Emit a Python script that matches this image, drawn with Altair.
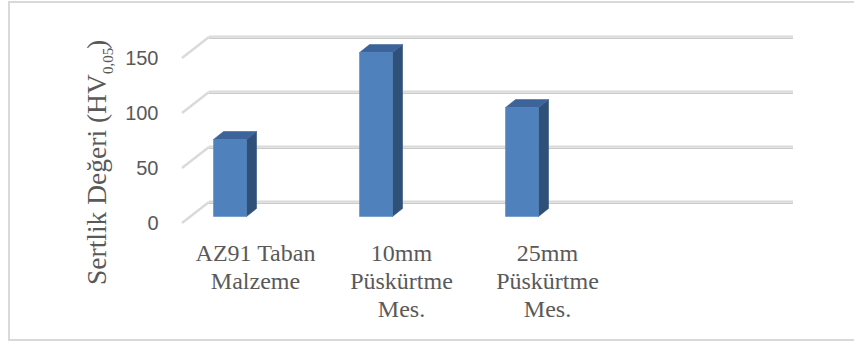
import json
import altair as alt
import pandas as pd

# ---------------- data ----------------
categories = ["AZ91 Taban Malzeme", "10mm Püskürtme Mes.", "25mm Püskürtme Mes."]
label_lines = [["AZ91 Taban", "Malzeme"], ["10mm", "Püskürtme", "Mes."], ["25mm", "Püskürtme", "Mes."]]
values = [70, 149, 99]
y_ticks = [0, 50, 100, 150]
y_max = 150
n_slots = 4  # Excel keeps an empty fourth category slot

# ---------------- layout (pixels) ----------------
PL, PT = 182, 58          # plot-area origin (front face)
W, H = 584, 165
kx = W / n_slots
ky = H / y_max
WALL_DX, WALL_DY = 27, -21   # depth of the back wall
BAR_LEFT = -41.5             # front-face left edge relative to slot centre
BAR_W = 33
BAR_DX, BAR_DY = 10, 8       # bar depth
BAR_LIFT = 6.5               # bar floor above front zero line

FRONT = "#4f81bd"
SIDE = "#2f5079"
TOP = "#3c649a"
GRID = "#dadada"
GRID_SHADE = "#c4c4c4"
TEXT = "#595959"

# ---------------- tables ----------------
ddx, ddy, b = BAR_DX / kx, BAR_DY / ky, BAR_LIFT / ky
front_rows, side_rows, top_rows = [], [], []
for i, (c, v) in enumerate(zip(categories, values)):
    xl = i + 0.5 + BAR_LEFT / kx
    xr = xl + BAR_W / kx
    t = v + b
    front_rows.append(dict(cat=c, x=xl, x2=xr, y=b, y2=t))
    side_rows += [dict(cat=c, x=xr, y=t, y2=b),
                  dict(cat=c, x=xr + ddx, y=t + ddy, y2=b + ddy)]
    top_rows += [dict(cat=c, x=xl, y=t, y2=t),
                 dict(cat=c, x=xl + ddx, y=t + ddy, y2=t),
                 dict(cat=c, x=xr, y=t + ddy, y2=t),
                 dict(cat=c, x=xr + ddx, y=t + ddy, y2=t + ddy)]
df_front = pd.DataFrame(front_rows)
df_side = pd.DataFrame(side_rows)
df_top = pd.DataFrame(top_rows)
df_grid = pd.DataFrame({"v": y_ticks, "x0": 0, "x1": n_slots})
one = pd.DataFrame({"k": [0]})

label_arr = json.dumps(["|".join(l) for l in label_lines], ensure_ascii=False)

x_scale = alt.Scale(domain=[0, n_slots], nice=False, zero=False)
y_scale = alt.Scale(domain=[0, y_max], nice=False, zero=True)
x_axis = alt.Axis(values=[i + 0.5 for i in range(len(categories))],
                  labelExpr=f"split({label_arr}[floor(datum.value)], '|')",
                  title=None, ticks=False, domain=False, grid=False)
y_axis = alt.Axis(values=y_ticks, title=None, ticks=False, domain=False, grid=False)


def X(f):
    return alt.X(f, type="quantitative", scale=x_scale, axis=x_axis)


def Y(f):
    return alt.Y(f, type="quantitative", scale=y_scale, axis=y_axis)


border = alt.Chart(one).mark_rect(filled=False, stroke="#d9d9d9", strokeWidth=2).encode(
    x=alt.value(9 - PL), x2=alt.value(880 - PL), y=alt.value(2 - PT), y2=alt.value(340 - PT))

grid_back_shade = alt.Chart(df_grid).mark_rule(
    color=GRID_SHADE, strokeWidth=1, xOffset=WALL_DX, x2Offset=WALL_DX,
    yOffset=WALL_DY + 1.4, y2Offset=WALL_DY + 1.4).encode(
    x=X("x0"), x2="x1", y=Y("v"))

grid_back = alt.Chart(df_grid).mark_rule(
    color=GRID, strokeWidth=2.2, xOffset=WALL_DX, x2Offset=WALL_DX,
    yOffset=WALL_DY - 0.3, y2Offset=WALL_DY - 0.3).encode(
    x=X("x0"), x2="x1", y=Y("v"))

grid_side = alt.Chart(df_grid).mark_rule(
    color=GRID, strokeWidth=2.5, x2Offset=WALL_DX, y2Offset=WALL_DY).encode(
    x=X("x0"), x2="x0", y=Y("v"), y2="v")

side = alt.Chart(df_side).mark_area(color=SIDE, stroke=SIDE, strokeWidth=0.6,
                                    interpolate="linear").encode(
    x=X("x"), y=Y("y"), y2="y2", detail="cat:N")

top = alt.Chart(df_top).mark_area(color=TOP, stroke=TOP, strokeWidth=0.6,
                                  interpolate="linear").encode(
    x=X("x"), y=Y("y"), y2="y2", detail="cat:N")

front = alt.Chart(df_front).mark_rect(color=FRONT, stroke=FRONT, strokeWidth=0.5).encode(
    x=X("x"), x2="x2", y=Y("y"), y2="y2")

title_font = "Liberation Serif"
t_main = alt.Chart(one).mark_text(angle=270, align="left", baseline="alphabetic",
                                  font=title_font, fontSize=27.5, color=TEXT).encode(
    x=alt.value(106 - PL), y=alt.value(285 - PT), text=alt.value("Sertlik Değeri (HV"))
t_sub = alt.Chart(one).mark_text(angle=270, align="left", baseline="alphabetic",
                                 font=title_font, fontSize=15, color=TEXT).encode(
    x=alt.value(113 - PL), y=alt.value(74 - PT), text=alt.value("0,05"))
t_close = alt.Chart(one).mark_text(angle=270, align="left", baseline="alphabetic",
                                   font=title_font, fontSize=27.5, color=TEXT).encode(
    x=alt.value(106 - PL), y=alt.value(49 - PT), text=alt.value(")"))

chart = alt.layer(border, grid_back_shade, grid_back, grid_side, side, top, front,
                  t_main, t_sub, t_close).properties(
    width=W, height=H,
    autosize=alt.AutoSizeParams(type="none"),
    padding={"left": PL, "top": PT, "right": 854 - PL - W, "bottom": 342 - PT - H},
    background="white",
).configure_view(stroke=None).configure_axisX(
    labelFont="Liberation Serif", labelFontSize=24, labelColor=TEXT,
    labelBaseline="top", labelLineHeight=28, labelPadding=18,
    labelAngle=0, labelOverlap=False, labelFlush=False, labelBound=False,
).configure_axisY(
    labelFont="Liberation Sans", labelFontSize=20, labelColor=TEXT, labelPadding=24,
)

chart.save("out.html", embed_options={"renderer": "svg", "actions": False})
